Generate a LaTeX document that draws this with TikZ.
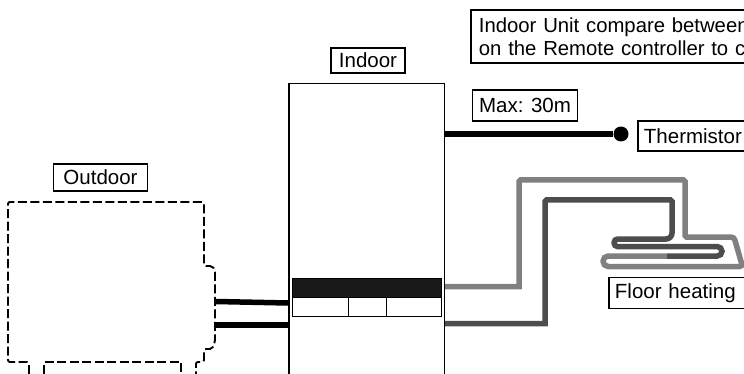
\documentclass[tikz,border=0pt]{standalone}
\usepackage{fontspec}
\setmainfont{Liberation Sans}
\tikzset{
  x=1pt,y=-1pt,
  lbl/.style={draw=black,line width=1.9pt,fill=white,inner sep=0pt,anchor=center,font=\fontsize{20.5}{24}\selectfont,align=left},
  wire/.style={line width=5.5pt,black},
  lightpipe/.style={line width=5.5pt,color=gray50},
  darkpipe/.style={line width=5.5pt,color=gray30},
  unit/.style={draw=black,line width=1.5pt,fill=white},
  dashunit/.style={draw=black,line width=1.9pt,dash pattern=on 9pt off 3.5pt},
  cell/.style={draw=black,line width=1.3pt,fill=white,minimum height=19pt,anchor=north west,inner sep=0pt},
}
\definecolor{gray50}{HTML}{808080}
\definecolor{gray30}{HTML}{4D4D4D}
\begin{document}
\begin{tikzpicture}
\useasboundingbox (0,0) rectangle (744,374);
\clip (0,0) rectangle (744,374);
% outdoor unit
\draw[dashunit,rounded corners=2pt] (29,374) -- (29,362) -- (8,362) -- (8,202) -- (204,202) -- (204,266) -- (212,266) -- (215,270) -- (215,342) -- (212,349) -- (204,349) -- (204,362) -- (196,362) -- (196,374);
\draw[dashunit] (44,374) -- (44,362) -- (181,362) -- (181,374);
% indoor unit
\node[unit,minimum width=155.5pt,minimum height=320pt,anchor=north west] (indoor) at (288.3,83) {};
\node[draw=black,line width=1.3pt,fill=black!90,minimum width=149pt,minimum height=20pt,anchor=north west,inner sep=0pt] (bar) at (292,278) {};
\node[cell,minimum width=56pt] (c1) at (292,297) {};
\node[cell,minimum width=37.5pt] (c2) at (348,297) {};
\node[cell,minimum width=55.5pt] (c3) at (385.5,297) {};
% labels
\node[lbl,minimum width=74pt,minimum height=25pt] (lindoor) at (368,60.5) {Indoor};
\node[lbl,minimum width=94pt,minimum height=27pt] (loutdoor) at (100.5,177.5) {Outdoor};
\node[lbl,minimum width=105pt,minimum height=31pt] (lmax) at (525,105.5) {Max: 30m};
\node[lbl,minimum width=120pt,minimum height=30pt,anchor=west,inner xsep=6pt,text width=108pt] (lth) at (637,136) {Thermistor};
\node[lbl,minimum width=135.5pt,minimum height=31pt,anchor=west,text width=124pt,inner xsep=6pt,inner ysep=0pt] (lfh) at (608,293) {Floor heating};
\node[lbl,anchor=north west,minimum height=53pt,inner xsep=8pt,text width=400pt,font=\fontsize{20.3}{23}\selectfont] (note) at (470,9) {Indoor Unit compare between\\on the Remote controller to c};
% thermistor
\coordinate (tstart) at (445,134);
\node[circle,fill=black,minimum size=15pt,inner sep=0pt] (bulb) at (621,134) {};
\draw[wire] (tstart) -- (bulb);
% refrigerant
\coordinate (o1) at (216,301.5);
\coordinate (i1) at (288,303);
\coordinate (o2) at (216,325);
\coordinate (i2) at (288,325);
\draw[wire] (o1) -- (i1);
\draw[wire] (o2) -- (i2);
% pipes
\coordinate (ls) at (445,286.5);
\coordinate (ds) at (445,323.5);
\coordinate (mid) at (667,256);
\draw[lightpipe] (ls) -- (519,286.5) [rounded corners=1.5pt] -- (519,180) -- (685,180) -- (685,237) [rounded corners=3pt] -- (734,237) -- (742.5,266.5) [rounded corners=5.2pt] -- (603,266.5) -- (603,256) -- (mid);
\draw[darkpipe] (ds) -- (545,323.5) [rounded corners=1.5pt] -- (545,200) -- (672,200) [rounded corners=6pt] -- (672,239) [rounded corners=3.7pt] -- (614,239) -- (614,246.6) [rounded corners=4.7pt] -- (722,246.6) -- (722,256) -- (mid);
\end{tikzpicture}
\end{document}
